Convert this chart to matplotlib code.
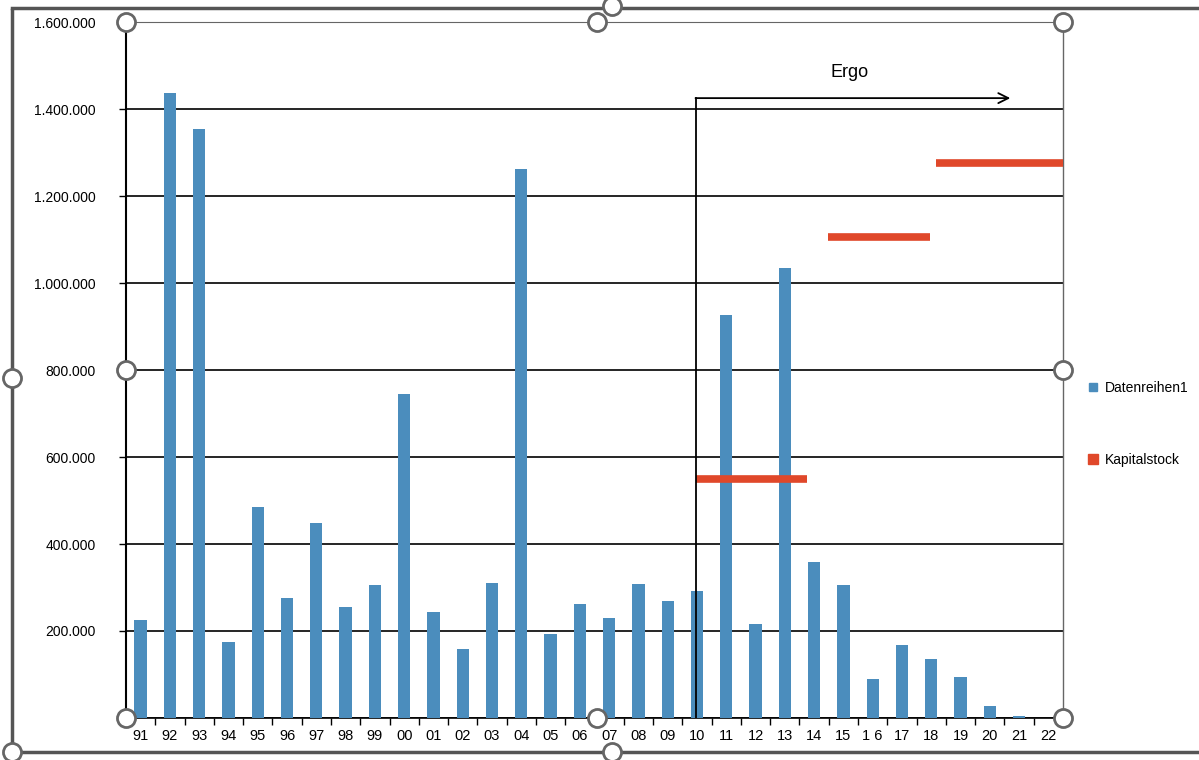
import numpy as np
import matplotlib
matplotlib.use("Agg")
import matplotlib.pyplot as plt
from matplotlib.lines import Line2D

plt.rcParams['font.family'] = ['Liberation Sans', 'DejaVu Sans']

# Daten
years = ["91", "92", "93", "94", "95", "96", "97", "98", "99", "00", "01", "02",
         "03", "04", "05", "06", "07", "08", "09", "10", "11", "12", "13", "14",
         "15", "1 6", "17", "18", "19", "20", "21", "22"]
values = [225000, 1437000, 1354000, 175000, 485000, 276000, 448000, 255000,
          306000, 745000, 244000, 159000, 310000, 1262000, 193000, 262000,
          230000, 308000, 269000, 292000, 926000, 216000, 1034000, 359000,
          306000, 90000, 168000, 136000, 94000, 28000, 5000, 0]

# Kapitalstock-Stufen (Start-/End-Index auf der Kategorienachse, Wert)
kapital_start = [18.95, 23.48, 27.16]
kapital_end = [22.75, 26.96, 31.5]
kapital_value = [549000, 1105000, 1276000]

ergo_x = 18.95
ergo_top = 1425000
ergo_end = 29.7

bar_color = "#4b8dbd"
red = "#e0482a"

fig = plt.figure(figsize=(11.99, 7.6), dpi=100)
ax = fig.add_axes([126 / 1199, 42 / 760, 937 / 1199, 696 / 760])

x = np.arange(len(years))
ax.bar(x, values, width=0.42, color=bar_color, zorder=3)

for s, e, v in zip(kapital_start, kapital_end, kapital_value):
    ax.plot([s, e], [v, v], color=red, linewidth=5.5, solid_capstyle="butt", zorder=4)

# Ergo-Pfeil
ax.plot([ergo_x, ergo_x], [0, ergo_top], color="black", linewidth=1.3, zorder=5)
ax.annotate("", xy=(ergo_end, ergo_top), xytext=(ergo_x, ergo_top),
            arrowprops=dict(arrowstyle="->", color="black", lw=1.3,
                            mutation_scale=18, shrinkA=0, shrinkB=0), zorder=5)
ax.text(24.2, 1485000, "Ergo", fontsize=13, ha="center", va="center")

ax.set_xlim(-0.5, len(years) - 0.5)
ax.set_ylim(0, 1600000)

yt = np.arange(0, 1600001, 200000)
ax.set_yticks(yt)
ax.set_yticklabels(["" if v == 0 else f"{v:,.0f}".replace(",", ".") for v in yt], fontsize=10)
ax.yaxis.grid(True, color="black", linewidth=1.2, zorder=0)
ax.tick_params(axis="y", direction="out", length=5, width=1, pad=17)

ax.set_xticks(x)
ax.set_xticklabels(years, fontsize=10.5)
ax.set_xticks(np.arange(-0.5, len(years), 1), minor=True)
ax.tick_params(axis="x", which="major", length=0, pad=8)
ax.tick_params(axis="x", which="minor", direction="out", length=5, width=1)

ax.spines["left"].set_color("black")
ax.spines["left"].set_linewidth(1.5)
ax.spines["bottom"].set_color("black")
ax.spines["bottom"].set_linewidth(1.2)
ax.spines["top"].set_color("#666666")
ax.spines["right"].set_color("#666666")
ax.spines["right"].set_linewidth(1.0)

handles = [Line2D([], [], linestyle="none", marker="s", markersize=6, color=bar_color),
           Line2D([], [], linestyle="none", marker="s", markersize=7, color=red)]
fig.legend(handles, ["Datenreihen1", "Kapitalstock"], loc="upper left",
           bbox_to_anchor=(1074 / 1199, 1 - 368 / 760), frameon=False,
           fontsize=10, labelspacing=4.2, handletextpad=0.3, handlelength=1.0)

# Rahmen des Diagrammbereichs (Auswahlrahmen)
def fx(px):
    return px / 1199

def fy(py):
    return 1 - py / 760

frame = dict(color="#555555", linewidth=2.5, transform=fig.transFigure)
fig.add_artist(Line2D([fx(12), fx(12)], [fy(10), fy(752)], **frame))
fig.add_artist(Line2D([fx(12), fx(1199)], [fy(8), fy(8)], **frame))
fig.add_artist(Line2D([fx(12), fx(1199)], [fy(752), fy(752)], **frame))

handle_pts = [(126, 22), (597, 22), (1063, 22), (126, 370), (1063, 370),
              (126, 718), (597, 718), (1063, 718),
              (12, 378), (612, 752), (12, 752), (612, 6)]
for hx, hy in handle_pts:
    fig.add_artist(Line2D([fx(hx)], [fy(hy)], marker="o", markersize=13,
                          markerfacecolor="white", markeredgecolor="#666666",
                          markeredgewidth=2, transform=fig.transFigure, zorder=10))

fig.savefig("out.png", dpi=100)
